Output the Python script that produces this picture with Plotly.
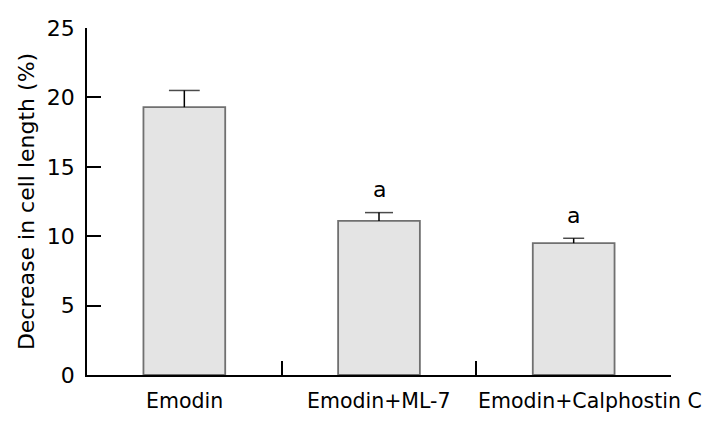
import plotly.graph_objects as go

categories = ["Emodin", "Emodin+ML-7", "Emodin+Calphostin C"]
values = [19.3, 11.1, 9.5]
errors = [1.2, 0.6, 0.35]
sig_labels = ["", "a", "a"]
y_ticks = [0, 5, 10, 15, 20, 25]

FONT = "DejaVu Sans"
cap_px = [22, 20, 15]   # cap widths in pixels
label_xshift = [0, 0, 16]

fig = go.Figure()
fig.add_trace(go.Bar(
    x=categories, y=values, width=0.42,
    marker=dict(color="#e4e4e4", line=dict(color="#707070", width=1.8)),
    showlegend=False, hoverinfo="skip",
))
# upward-only error bars: stem from bar top, cap drawn as a horizontal line marker
fig.add_trace(go.Scatter(
    x=categories, y=[v + e for v, e in zip(values, errors)], mode="markers",
    marker=dict(symbol="line-ew", size=cap_px, color="black",
                line=dict(color="black", width=1.5)),
    error_y=dict(type="data", symmetric=False, array=[0] * len(errors), arrayminus=errors,
                 color="black", thickness=1.5, width=0),
    showlegend=False, hoverinfo="skip",
))
for c, v, e, s in zip(categories, values, errors, sig_labels):
    if s:
        fig.add_annotation(x=c, y=v + e, text=s, showarrow=False,
                           yanchor="middle", yshift=23,
                           font=dict(family=FONT, size=22, color="black"))
for c, xs in zip(categories, label_xshift):
    fig.add_annotation(x=c, xref="x", y=0, yref="paper", text=c, showarrow=False,
                       yanchor="middle", yshift=-26, xshift=xs,
                       font=dict(family=FONT, size=20.5, color="black"))

fig.update_layout(
    width=707, height=415,
    margin=dict(l=79, r=44, t=20, b=48),
    plot_bgcolor="white", paper_bgcolor="white",
    font=dict(family=FONT, size=20, color="black"),
)
fig.update_xaxes(
    type="category", range=[-0.5, 2.5], automargin=False,
    showline=True, linecolor="black", linewidth=1.5,
    ticks="inside", tickson="boundaries", ticklen=14, tickcolor="black", tickwidth=1.5,
    showgrid=False, zeroline=False, showticklabels=False,
)
fig.update_yaxes(
    range=[0, 25], tickvals=y_ticks, automargin=False,
    showline=True, linecolor="black", linewidth=1.5,
    ticks="inside", ticklen=14, tickcolor="black", tickwidth=1.5,
    showgrid=False, zeroline=False,
    tickfont=dict(family=FONT, size=22, color="black"),
    ticklabelstandoff=6,
    title=dict(text="Decrease in cell length (%)", font=dict(family=FONT, size=22, color="black"), standoff=6),
)

fig.write_html("out.html")
